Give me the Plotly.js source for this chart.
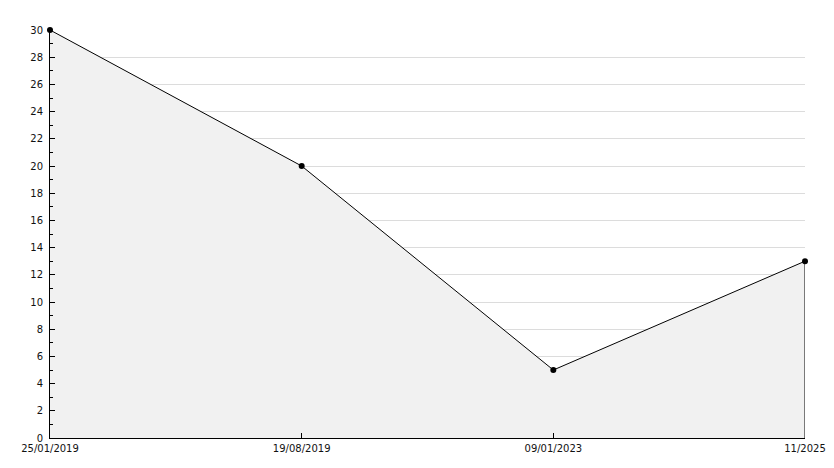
<!DOCTYPE html>
<html><head><meta charset="utf-8">
<script src="https://cdn.plot.ly/plotly-3.0.1.min.js"></script>
<style>html,body{margin:0;padding:0;background:#fff}#chart{width:834px;height:468px}</style>
</head><body><div id="chart"></div>
<script>
const categories = ["25/01/2019", "19/08/2019", "09/01/2023", "11/2025"];
const values = [30, 20, 5, 13];
const yTicks = [0,2,4,6,8,10,12,14,16,18,20,22,24,26,28,30];

const last = categories.length - 1;
const traces = [
  {
    x: categories, y: values, type: "scatter", mode: "lines+markers",
    fill: "tozeroy", fillcolor: "#f1f1f1", cliponaxis: false,
    line: {color: "#000", width: 1},
    marker: {symbol: "circle", size: 6, color: "#000"},
    hoverinfo: "x+y"
  },
  {
    x: [categories[last], categories[last]], y: [0, values[last]],
    type: "scatter", mode: "lines", line: {color: "#000", width: 1},
    hoverinfo: "skip", showlegend: false
  }
];
const layout = {
  width: 834, height: 468,
  margin: {l: 50, r: 29, t: 30, b: 30},
  paper_bgcolor: "#fff", plot_bgcolor: "#fff",
  showlegend: false,
  font: {family: "DejaVu Sans, Verdana, sans-serif", size: 10, color: "#111"},
  xaxis: {
    type: "category", range: [0, last], showgrid: false, zeroline: false,
    showline: true, linecolor: "#000", linewidth: 1,
    ticks: "inside", ticklen: 5, tickcolor: "#000", tickwidth: 1,
    ticklabelstandoff: 1, automargin: false
  },
  yaxis: {
    range: [0, 30], tickvals: yTicks, ticktext: yTicks.map(String),
    showgrid: true, gridcolor: "#dcdcdc", gridwidth: 1, zeroline: false,
    showline: true, linecolor: "#000", linewidth: 1,
    ticks: "inside", ticklen: 5, tickcolor: "#000", tickwidth: 1,
    ticklabelstandoff: 4,
    minor: {dtick: 1, tick0: 0, ticks: "inside", ticklen: 3, tickcolor: "#000", showgrid: false},
    automargin: false
  }
};
Plotly.newPlot("chart", traces, layout, {displayModeBar: false, staticPlot: true});
</script></body></html>
